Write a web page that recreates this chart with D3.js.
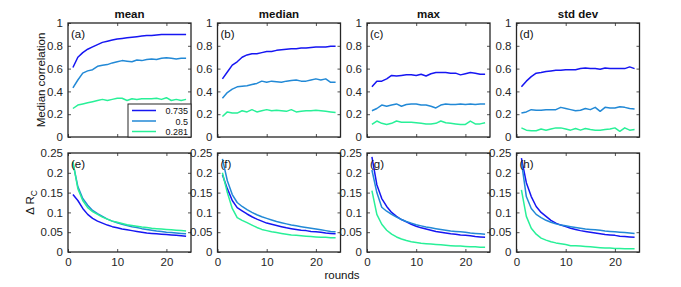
<!DOCTYPE html>
<html>
<head>
<meta charset="utf-8">
<script src="https://cdn.jsdelivr.net/npm/d3@7"></script>
<style>
  body { margin: 0; background: #fff; }
  svg { font-family: "Liberation Sans", Arial, sans-serif; }
</style>
</head>
<body>
<div class="board"></div>
<script>
var WIDTH = 681;
var HEIGHT = 287;

var rounds = d3.range(1, 25);
var titles = ['mean', 'median', 'max', 'std dev'];
var topLabels = ['(a)', '(b)', '(c)', '(d)'];
var bottomLabels = ['(e)', '(f)', '(g)', '(h)'];
var seriesNames = ['0.735', '0.5', '0.281'];
var colors = ['#1616f2', '#2289d6', '#28f098'];
var topTicks = [0, 0.2, 0.4, 0.6, 0.8, 1];
var bottomTicks = [0, 0.05, 0.1, 0.15, 0.2, 0.25];
var xTicks = [0, 10, 20];

// median correlation, per panel: [0.735, 0.5, 0.281]
var corrMean = [
  [0.61, 0.70, 0.74, 0.77, 0.79, 0.81, 0.83, 0.84, 0.85, 0.86, 0.865, 0.87, 0.875, 0.88, 0.885, 0.89, 0.89, 0.895, 0.90, 0.90, 0.90, 0.90, 0.90, 0.90],
  [0.43, 0.50, 0.56, 0.58, 0.59, 0.62, 0.63, 0.635, 0.65, 0.66, 0.67, 0.665, 0.66, 0.675, 0.67, 0.68, 0.685, 0.68, 0.69, 0.695, 0.69, 0.685, 0.69, 0.69],
  [0.25, 0.28, 0.29, 0.30, 0.31, 0.32, 0.33, 0.32, 0.33, 0.34, 0.34, 0.32, 0.335, 0.33, 0.335, 0.335, 0.335, 0.34, 0.33, 0.345, 0.32, 0.33, 0.32, 0.33]
];
var corrMedian = [
  [0.51, 0.57, 0.63, 0.66, 0.70, 0.72, 0.73, 0.73, 0.74, 0.75, 0.75, 0.76, 0.765, 0.77, 0.775, 0.775, 0.78, 0.78, 0.785, 0.79, 0.79, 0.79, 0.795, 0.795],
  [0.34, 0.39, 0.42, 0.44, 0.445, 0.45, 0.46, 0.47, 0.49, 0.48, 0.49, 0.485, 0.48, 0.49, 0.495, 0.50, 0.49, 0.49, 0.50, 0.51, 0.50, 0.51, 0.48, 0.48],
  [0.18, 0.22, 0.21, 0.21, 0.23, 0.22, 0.24, 0.22, 0.23, 0.24, 0.23, 0.235, 0.23, 0.225, 0.24, 0.22, 0.225, 0.23, 0.23, 0.235, 0.23, 0.225, 0.22, 0.215]
];
var corrMax = [
  [0.44, 0.49, 0.49, 0.51, 0.54, 0.535, 0.54, 0.545, 0.545, 0.54, 0.55, 0.535, 0.555, 0.565, 0.565, 0.565, 0.56, 0.56, 0.545, 0.555, 0.565, 0.56, 0.55, 0.55],
  [0.23, 0.25, 0.28, 0.27, 0.28, 0.29, 0.27, 0.285, 0.29, 0.29, 0.28, 0.28, 0.27, 0.255, 0.28, 0.29, 0.285, 0.285, 0.29, 0.285, 0.29, 0.285, 0.29, 0.29],
  [0.11, 0.14, 0.12, 0.11, 0.12, 0.14, 0.13, 0.13, 0.13, 0.125, 0.12, 0.115, 0.115, 0.12, 0.14, 0.125, 0.12, 0.115, 0.11, 0.11, 0.14, 0.115, 0.115, 0.125]
];
var corrStd = [
  [0.44, 0.49, 0.53, 0.56, 0.565, 0.575, 0.58, 0.585, 0.585, 0.59, 0.59, 0.59, 0.60, 0.605, 0.60, 0.60, 0.595, 0.605, 0.60, 0.60, 0.60, 0.60, 0.615, 0.60],
  [0.21, 0.22, 0.24, 0.235, 0.235, 0.24, 0.24, 0.24, 0.26, 0.25, 0.24, 0.23, 0.235, 0.25, 0.24, 0.26, 0.225, 0.26, 0.255, 0.255, 0.265, 0.26, 0.25, 0.245],
  [0.08, 0.06, 0.055, 0.055, 0.07, 0.06, 0.07, 0.08, 0.08, 0.07, 0.06, 0.075, 0.06, 0.075, 0.065, 0.06, 0.06, 0.065, 0.07, 0.08, 0.05, 0.08, 0.06, 0.065]
];

// delta R_C, per panel: [0.735, 0.5, 0.281]
var drMean = [
  [0.145, 0.13, 0.11, 0.095, 0.085, 0.078, 0.073, 0.068, 0.064, 0.061, 0.058, 0.056, 0.054, 0.052, 0.05, 0.048, 0.047, 0.046, 0.045, 0.044, 0.043, 0.042, 0.041, 0.040],
  [0.225, 0.165, 0.135, 0.118, 0.105, 0.097, 0.09, 0.083, 0.078, 0.074, 0.07, 0.067, 0.064, 0.062, 0.059, 0.057, 0.055, 0.053, 0.052, 0.05, 0.049, 0.048, 0.047, 0.046],
  [0.228, 0.16, 0.13, 0.112, 0.102, 0.095, 0.088, 0.083, 0.078, 0.075, 0.072, 0.069, 0.067, 0.065, 0.063, 0.062, 0.06, 0.059, 0.058, 0.057, 0.056, 0.055, 0.054, 0.053]
];
var drMedian = [
  [0.195, 0.16, 0.13, 0.112, 0.104, 0.096, 0.089, 0.083, 0.078, 0.073, 0.07, 0.067, 0.064, 0.061, 0.059, 0.057, 0.055, 0.054, 0.052, 0.051, 0.05, 0.048, 0.047, 0.046],
  [0.235, 0.18, 0.145, 0.125, 0.115, 0.107, 0.1, 0.094, 0.089, 0.085, 0.081, 0.077, 0.074, 0.071, 0.068, 0.066, 0.064, 0.062, 0.06, 0.058, 0.056, 0.054, 0.052, 0.051],
  [0.2, 0.15, 0.11, 0.087, 0.08, 0.074, 0.068, 0.062, 0.057, 0.054, 0.051, 0.049, 0.047, 0.045, 0.043, 0.042, 0.041, 0.04, 0.039, 0.038, 0.037, 0.037, 0.036, 0.036]
];
var drMax = [
  [0.24, 0.17, 0.135, 0.115, 0.1, 0.09, 0.082, 0.076, 0.07, 0.065, 0.061, 0.058, 0.055, 0.052, 0.05, 0.048, 0.046, 0.045, 0.043, 0.042, 0.041, 0.039, 0.038, 0.037],
  [0.207, 0.15, 0.113, 0.103, 0.095, 0.088, 0.082, 0.077, 0.073, 0.069, 0.066, 0.063, 0.061, 0.059, 0.057, 0.055, 0.053, 0.052, 0.051, 0.05, 0.048, 0.047, 0.046, 0.045],
  [0.155, 0.095, 0.07, 0.055, 0.045, 0.038, 0.033, 0.029, 0.026, 0.024, 0.022, 0.021, 0.02, 0.019, 0.018, 0.017, 0.016, 0.015, 0.015, 0.014, 0.013, 0.013, 0.012, 0.012]
];
var drStd = [
  [0.237, 0.175, 0.14, 0.115, 0.1, 0.09, 0.08, 0.073, 0.068, 0.064, 0.06, 0.057, 0.054, 0.052, 0.05, 0.048, 0.046, 0.044, 0.043, 0.042, 0.04, 0.039, 0.038, 0.037],
  [0.228, 0.14, 0.11, 0.095, 0.087, 0.08, 0.075, 0.071, 0.068, 0.066, 0.064, 0.062, 0.06, 0.058, 0.057, 0.056, 0.055, 0.053, 0.052, 0.051, 0.05, 0.049, 0.048, 0.047],
  [0.157, 0.09, 0.06, 0.045, 0.035, 0.03, 0.026, 0.023, 0.021, 0.019, 0.016, 0.016, 0.015, 0.014, 0.013, 0.012, 0.011, 0.01, 0.01, 0.009, 0.009, 0.008, 0.008, 0.008]
];

var topData = [corrMean, corrMedian, corrMax, corrStd];
var bottomData = [drMean, drMedian, drMax, drStd];

var panelLefts = [68, 217.5, 367, 516.5];
var panelW = 123;
var topRow = { y0: 23, y1: 137 };
var bottomRow = { y0: 153, y1: 252 };
var AXIS_COLOR = '#262626';

var svg = d3.select('.board')
  .append('svg')
  .attr('width', WIDTH)
  .attr('height', HEIGHT);

var drawPanel = function(left, row, yDomain, yTicks, yFormat, data, label, showXLabels) {
  var x = d3.scaleLinear().domain([0, 25]).range([left, left + panelW]);
  var y = d3.scaleLinear().domain(yDomain).range([row.y1, row.y0]);
  var g = svg.append('g');

  var line = d3.line()
    .x(function(d, i) { return x(rounds[i]); })
    .y(function(d) { return y(d); });

  g.selectAll('path.series')
    .data(data)
    .enter()
    .append('path')
    .attr('class', 'series')
    .attr('d', line)
    .attr('fill', 'none')
    .attr('stroke', function(d, i) { return colors[i]; })
    .attr('stroke-width', 1.5)
    .attr('stroke-linejoin', 'round');

  var axes = [
    d3.axisLeft(y).tickValues(yTicks).tickFormat(yFormat).tickSizeInner(-3).tickSizeOuter(0).tickPadding(5),
    d3.axisRight(y).tickValues(yTicks).tickFormat('').tickSizeInner(-3).tickSizeOuter(0),
    d3.axisBottom(x).tickValues(xTicks).tickFormat(showXLabels ? d3.format('d') : '').tickSizeInner(-3).tickSizeOuter(0).tickPadding(6),
    d3.axisTop(x).tickValues(xTicks).tickFormat('').tickSizeInner(-3).tickSizeOuter(0)
  ];
  var shifts = [
    'translate(' + left + ',0)',
    'translate(' + (left + panelW) + ',0)',
    'translate(0,' + row.y1 + ')',
    'translate(0,' + row.y0 + ')'
  ];
  axes.forEach(function(ax, i) {
    var a = g.append('g').attr('transform', shifts[i]).call(ax);
    a.select('.domain').remove();
    a.selectAll('line').attr('stroke', AXIS_COLOR).attr('stroke-width', 0.8);
    a.selectAll('text')
      .attr('fill', AXIS_COLOR)
      .style('font-size', '11.5px')
      .style('font-family', '"Liberation Sans", Arial, sans-serif');
  });

  g.append('rect')
    .attr('x', left)
    .attr('y', row.y0)
    .attr('width', panelW)
    .attr('height', row.y1 - row.y0)
    .attr('fill', 'none')
    .attr('stroke', AXIS_COLOR)
    .attr('stroke-width', 1.3);

  g.append('text')
    .attr('x', left + 3)
    .attr('y', row.y0 + 15)
    .attr('fill', '#111')
    .style('font-size', '11.5px')
    .text(label);

  return { x: x, y: y, g: g };
};

var fmtTop = function(d) { return d === 0 || d === 1 ? String(d) : d3.format('.1f')(d); };
var fmtBottom = function(d) { return d === 0 ? '0' : String(+d.toFixed(2)); };

panelLefts.forEach(function(left, i) {
  drawPanel(left, topRow, [0, 1], topTicks, fmtTop, topData[i], topLabels[i], false);
  drawPanel(left, bottomRow, [0, 0.25], bottomTicks, fmtBottom, bottomData[i], bottomLabels[i], true);

  svg.append('text')
    .attr('x', left + panelW / 2)
    .attr('y', 18)
    .attr('text-anchor', 'middle')
    .attr('fill', '#111')
    .style('font-size', '11.5px')
    .style('font-weight', 'bold')
    .text(titles[i]);
});

// legend in panel (a)
var legend = svg.append('g');
var lx0 = 128, ly0 = 104, lx1 = panelLefts[0] + panelW, ly1 = topRow.y1;
legend.append('rect')
  .attr('x', lx0)
  .attr('y', ly0)
  .attr('width', lx1 - lx0)
  .attr('height', ly1 - ly0)
  .attr('fill', '#fff')
  .attr('stroke', AXIS_COLOR)
  .attr('stroke-width', 1);
seriesNames.forEach(function(name, i) {
  var yy = ly0 + 6.5 + i * 10.5;
  legend.append('line')
    .attr('x1', lx0 + 4)
    .attr('x2', lx0 + 28)
    .attr('y1', yy)
    .attr('y2', yy)
    .attr('stroke', colors[i])
    .attr('stroke-width', 1.5);
  legend.append('text')
    .attr('x', lx1 - 3)
    .attr('y', yy + 3.5)
    .attr('text-anchor', 'end')
    .attr('fill', '#111')
    .style('font-size', '9px')
    .text(name);
});

// axis labels
svg.append('text')
  .attr('transform', 'translate(45,' + ((topRow.y0 + topRow.y1) / 2) + ') rotate(-90)')
  .attr('text-anchor', 'middle')
  .attr('fill', '#111')
  .style('font-size', '11.5px')
  .text('Median correlation');

var dr = svg.append('text')
  .attr('transform', 'translate(34,' + ((bottomRow.y0 + bottomRow.y1) / 2) + ') rotate(-90)')
  .attr('text-anchor', 'middle')
  .attr('fill', '#111')
  .style('font-size', '11.5px');
dr.append('tspan').text('\u0394 R');
dr.append('tspan').attr('dy', 3).style('font-size', '8.5px').text('C');

svg.append('text')
  .attr('x', 342)
  .attr('y', 279)
  .attr('text-anchor', 'middle')
  .attr('fill', '#111')
  .style('font-size', '11.5px')
  .text('rounds');
</script>
</body>
</html>
